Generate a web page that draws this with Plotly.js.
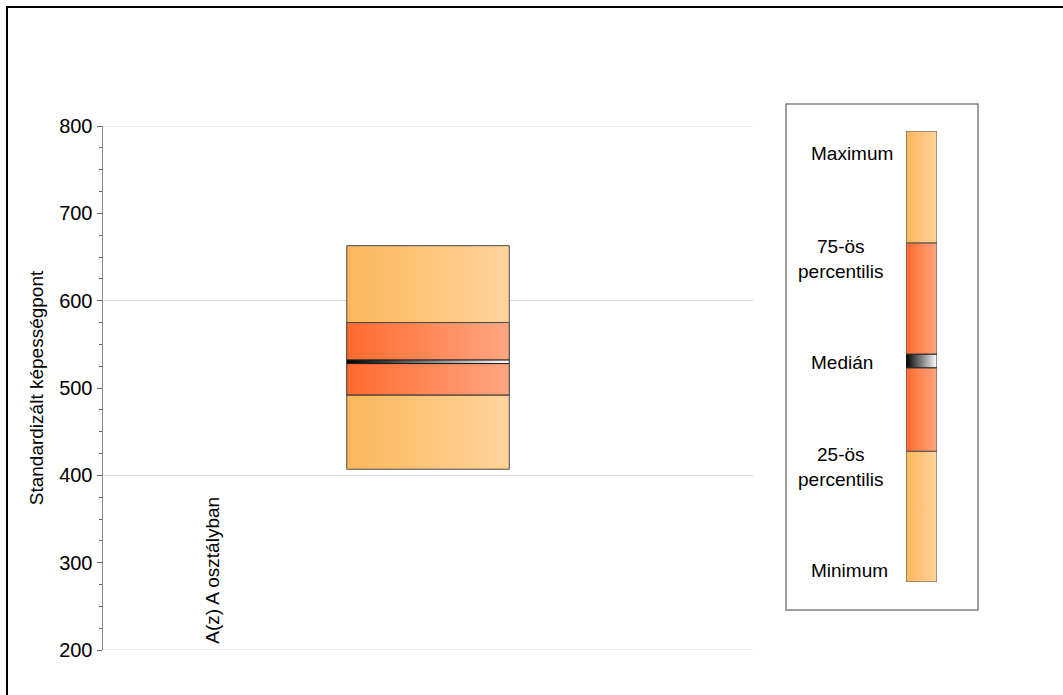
<!DOCTYPE html>
<html>
<head>
<meta charset="utf-8">
<script src="https://cdn.plot.ly/plotly-3.0.1.min.js"></script>
<style>
  html, body { margin: 0; padding: 0; background: #fff; }
  #chart { width: 1063px; height: 695px; }
</style>
</head>
<body>
<div id="chart"></div>
<script>
// ---- data ----
const categories = ['A(z) A osztályban'];
const minimum = [407];
const percentile25 = [492];
const median = [530];
const percentile75 = [575];
const maximum = [663];

const gridValues = [200, 400, 600, 800];

const legendLabels = ['Maximum', '75-ös<br>percentilis', 'Medián', '25-ös<br>percentilis', 'Minimum'];
// legend key breaks (fraction of key height): min, p25, median band lo, median band hi, p75, max
const legendBreaks = [0, 0.29, 0.475, 0.505, 0.752, 1];

// ---- styles ----
const FONT = 'Liberation Sans, Arial, sans-serif';
const outerScale = [[0, '#FDB65A'], [1, '#FED49C']];
const innerScale = [[0, '#FF6A2E'], [1, '#FFA681']];
const medianScale = [[0, '#000000'], [1, '#FFFFFF']];

function segment(xaxis, yaxis, x0, x1, lo, hi, scale, lineColor) {
  return {
    type: 'scatter', mode: 'lines',
    xaxis: xaxis, yaxis: yaxis,
    x: [x0, x1, x1, x0, x0],
    y: [lo, lo, hi, hi, lo],
    fill: 'toself',
    fillgradient: { type: 'horizontal', colorscale: scale },
    line: { color: lineColor, width: 1 },
    hoverinfo: 'skip', showlegend: false
  };
}

const traces = [];
const boxHalf = 0.125;
const medianHalf = 2;
categories.forEach((c, i) => {
  const cx = 0.5 + i;
  const x0 = cx - boxHalf, x1 = cx + boxHalf;
  traces.push(segment('x', 'y', x0, x1, minimum[i], percentile25[i], outerScale, '#4A4A4A'));
  traces.push(segment('x', 'y', x0, x1, percentile25[i], median[i] - medianHalf, innerScale, '#303030'));
  traces.push(segment('x', 'y', x0, x1, median[i] + medianHalf, percentile75[i], innerScale, '#303030'));
  traces.push(segment('x', 'y', x0, x1, percentile75[i], maximum[i], outerScale, '#4A4A4A'));
  traces.push(segment('x', 'y', x0, x1, median[i] - medianHalf, median[i] + medianHalf, medianScale, '#202020'));
});

// legend key
const lb = legendBreaks;
traces.push(segment('x2', 'y2', 0, 1, lb[0], lb[1], outerScale, '#505050'));
traces.push(segment('x2', 'y2', 0, 1, lb[1], lb[2], innerScale, '#505050'));
traces.push(segment('x2', 'y2', 0, 1, lb[3], lb[4], innerScale, '#505050'));
traces.push(segment('x2', 'y2', 0, 1, lb[4], lb[5], outerScale, '#505050'));
traces.push(segment('x2', 'y2', 0, 1, lb[2], lb[3], medianScale, '#202020'));

const W = 1063, H = 695;
const px = v => v / W;
const py = v => (H - v) / H;

const shapes = gridValues.map(v => ({
  type: 'line', xref: 'x', yref: 'y', x0: 0, x1: 1, y0: v, y1: v,
  line: { color: '#D4D4D4', width: 1 }, layer: 'below'
}));
// legend frame
shapes.push({
  type: 'rect', xref: 'paper', yref: 'paper',
  x0: px(786), x1: px(978), y0: py(610), y1: py(104),
  line: { color: '#808080', width: 1.5 }, fillcolor: 'rgba(0,0,0,0)', layer: 'below'
});
// outer chart frame (top and left edges visible)
shapes.push({
  type: 'rect', xref: 'paper', yref: 'paper',
  x0: px(7), x1: 1.05, y0: -0.05, y1: py(7),
  line: { color: '#000000', width: 2 }, fillcolor: 'rgba(0,0,0,0)', layer: 'below'
});

const legendY = [153.5, 259, 362.5, 467, 570.5];
const legendX = [809, 841, 809, 841, 809];
const legendAnchor = ['left', 'center', 'left', 'center', 'left'];
const annotations = legendLabels.map((t, i) => ({
  xref: 'paper', yref: 'paper', x: px(legendX[i]), y: py(legendY[i]),
  xanchor: legendAnchor[i], yanchor: 'middle', align: 'center',
  text: t, showarrow: false,
  font: { family: FONT, size: 19, color: '#000' }
}));
categories.forEach((c, i) => {
  annotations.push({
    xref: 'x', yref: 'y', x: 0.168 + i, y: 200, yanchor: 'bottom', xanchor: 'center',
    yshift: 4, textangle: -90, text: c, showarrow: false,
    font: { family: FONT, size: 19, color: '#000' }
  });
});

const layout = {
  width: W, height: H,
  margin: { l: 0, r: 0, t: 0, b: 0 },
  paper_bgcolor: '#fff', plot_bgcolor: 'rgba(0,0,0,0)',
  font: { family: FONT, size: 19, color: '#000' },
  showlegend: false,
  xaxis: {
    domain: [px(103), px(753)], range: [0, 1],
    visible: false, fixedrange: true
  },
  yaxis: {
    domain: [py(650), py(126)], range: [200, 800],
    dtick: 100, tick0: 0, showgrid: false, zeroline: false,
    showline: true, linecolor: '#888888', linewidth: 1.5,
    ticks: 'outside', ticklen: 5, tickcolor: '#666666', tickwidth: 1,
    minor: { dtick: 25, ticks: 'outside', ticklen: 3, tickcolor: '#666666', showgrid: false },
    tickfont: { family: FONT, size: 20, color: '#000' },
    title: { text: 'Standardizált képességpont', font: { family: FONT, size: 19, color: '#000' }, standoff: 10 },
    fixedrange: true
  },
  xaxis2: {
    domain: [px(906), px(937)], range: [0, 1], anchor: 'y2',
    visible: false, fixedrange: true
  },
  yaxis2: {
    domain: [py(582), py(131)], range: [0, 1], anchor: 'x2',
    visible: false, fixedrange: true
  },
  shapes: shapes,
  annotations: annotations
};

Plotly.newPlot('chart', traces, layout, { staticPlot: true, displayModeBar: false });
</script>
</body>
</html>
